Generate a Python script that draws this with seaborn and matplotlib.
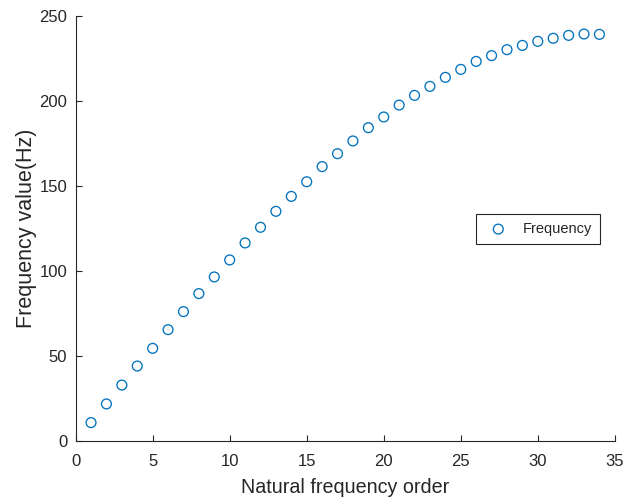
import numpy as np
import pandas as pd
import matplotlib
matplotlib.use("Agg")
import matplotlib.pyplot as plt
import seaborn as sns

order = list(range(1, 35))
frequency = [10.8, 21.8, 32.9, 44.1, 54.5, 65.5, 76.1, 86.7, 96.5, 106.5,
             116.5, 125.7, 135.1, 143.9, 152.5, 161.4, 169.0, 176.5, 184.3, 190.6,
             197.6, 203.3, 208.6, 213.9, 218.6, 223.3, 226.7, 230.2, 232.7, 235.1,
             236.9, 238.6, 239.4, 239.2]
xticks = [0, 5, 10, 15, 20, 25, 30, 35]
yticks = [0, 50, 100, 150, 200, 250]

sns.set_style("ticks")
plt.rcParams['font.family'] = ['Liberation Sans', 'DejaVu Sans']

df = pd.DataFrame({"order": order, "freq": frequency})

fig = plt.figure(figsize=(6.24, 4.97), dpi=100)
ax = fig.add_axes([0.1212, 0.1127, 0.8641, 0.8551])
sns.scatterplot(data=df, x="order", y="freq", ax=ax, marker="o", s=50,
                facecolor="none", edgecolor="#0072BD", linewidth=0.95,
                label="Frequency")

ax.set_xlim(0, 35)
ax.set_ylim(0, 250)
ax.set_xticks(xticks)
ax.set_yticks(yticks)
ax.tick_params(direction="in", length=4, width=0.8, colors="#262626",
               labelsize=12, labelcolor="#262626")
ax.tick_params(axis="y", pad=6)
ax.tick_params(axis="x", pad=9.5)
for s in ["top", "right"]:
    ax.spines[s].set_visible(False)
for s in ["left", "bottom"]:
    ax.spines[s].set_color("#262626")
    ax.spines[s].set_linewidth(0.8)
ax.set_xlabel("Natural frequency order", fontsize=14.2, color="#262626", labelpad=6.5)
ax.set_ylabel("Frequency value(Hz)", fontsize=15.5, color="#262626", labelpad=1.5)

leg = ax.legend(loc="center", bbox_to_anchor=(0.857, 0.499), fontsize=10.5,
                frameon=True, fancybox=False, framealpha=1,
                edgecolor="#262626", borderpad=0.55, handlelength=2.0,
                handletextpad=0.65)
leg.get_frame().set_linewidth(0.8)

fig.savefig("out.png", dpi=100)
